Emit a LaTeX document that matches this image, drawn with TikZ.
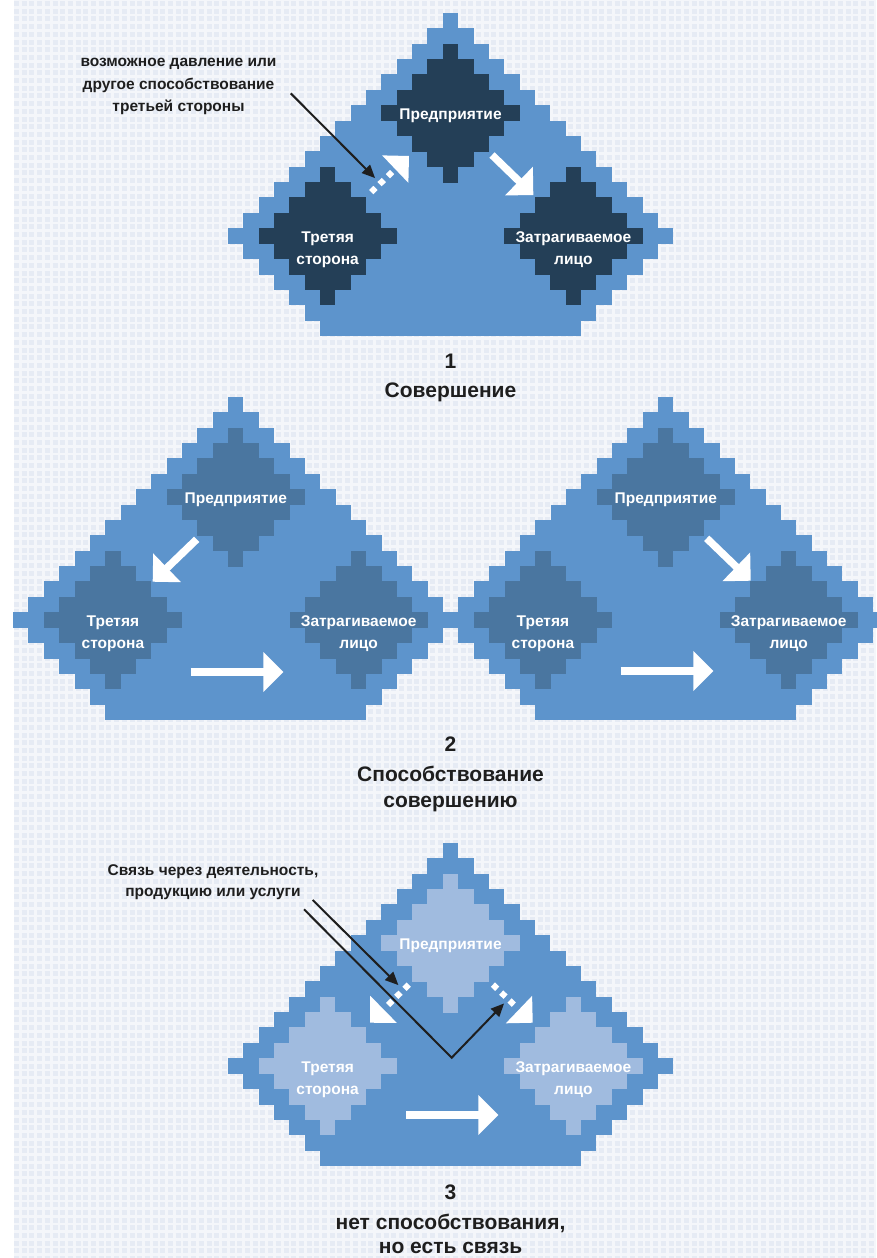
\documentclass[tikz,border=0pt]{standalone}
\usepackage{fontspec}
\setmainfont{Liberation Sans}
\usetikzlibrary{calc}
\definecolor{bgA}{HTML}{E6EBF4}
\definecolor{bgB}{HTML}{F4F6FA}
\definecolor{tri}{HTML}{5D94CC}
\definecolor{dkd}{HTML}{243F57}
\definecolor{mdd}{HTML}{4A76A0}
\definecolor{ltd}{HTML}{A0BBDF}
\definecolor{ink}{HTML}{1E1E1E}
\newcommand{\cs}{15.36}
\newcommand{\stairtri}[2]{%
  \foreach \k in {0,...,20}{%
    \pgfmathsetmacro{\hw}{(\k<15 ? \k+0.5 : 28.5-\k)*\cs}%
    \fill[tri] ({#1-\hw},{#2+\k*\cs-0.3}) rectangle ({#1+\hw},{#2+(\k+1)*\cs+0.3});
  }}
\newcommand{\stairdia}[4]{%
  \foreach \j in {-4,...,4}{%
    \pgfmathsetmacro{\hw}{(4-abs(\j)+0.5)*\cs}%
    \fill[#4] ({#1+(#3)*\cs-\hw},{#2+(\j-0.5)*\cs-0.3}) rectangle ({#1+(#3)*\cs+\hw},{#2+(\j+0.5)*\cs+0.3});
  }}
\newcommand{\twol}[2]{\begin{tabular}[t]{@{}c@{}}#1\\#2\end{tabular}}
\newcommand{\schemebody}[4]{%
  \stairdia{#1}{#2+6.5*\cs}{0}{#3}
  \stairdia{#1}{#2+14.5*\cs}{-8}{#3}
  \stairdia{#1}{#2+14.5*\cs}{8}{#3}
  \node[lbl] (#4p) at (#1,{#2+7*\cs-1.5}) {Предприятие};
  \node[lbl] (#4t) at ({#1-8*\cs},{#2+15*\cs-1.5}) {\twol{Третяя}{сторона}};
  \node[lbl] (#4a) at ({#1+8*\cs},{#2+15*\cs-1.5}) {\twol{Затрагиваемое}{лицо}};
}
% white solid arrow: start, tip
\newcommand{\wsolid}[2]{%
  \coordinate (#1b) at ($(#2)!20pt!(#1)$);
  \draw[wshaft] (#1) -- ($(#1b)!1pt!(#2)$);
  \fill[white] (#2) -- ($(#1b)!20pt!90:(#2)$) -- ($(#1b)!20pt!-90:(#2)$) -- cycle;
}
% white dashed arrow: start, tip
\newcommand{\wdashed}[2]{%
  \coordinate (#1b) at ($(#2)!19pt!(#1)$);
  \draw[wdshaft] (#1) -- ($(#2)!23pt!(#1)$);
  \fill[white] (#2) -- ($(#1b)!19pt!90:(#2)$) -- ($(#1b)!19pt!-90:(#2)$) -- cycle;
}
% black arrow head: from, tip
\newcommand{\blkhead}[2]{%
  \coordinate (#2h) at ($(#2)!13pt!(#1)$);
  \fill[ink] (#2) -- ($(#2h)!6pt!90:(#2)$) -- ($(#2h)!6pt!-90:(#2)$) -- cycle;
}
\tikzset{
  lbl/.style={text=white, anchor=base, inner sep=0pt, font=\fontsize{15.5}{22.5}\selectfont\bfseries},
  ann/.style={text=ink, anchor=base, inner sep=0pt, font=\fontsize{15.5}{22.3}\selectfont\bfseries},
  ttl/.style={text=ink, anchor=base, inner sep=0pt, font=\fontsize{21}{25}\selectfont\bfseries},
  wshaft/.style={draw=white, line width=7.5pt},
  wdshaft/.style={draw=white, line width=6pt, dash pattern=on 6pt off 5.5pt},
  blk/.style={draw=ink, line width=2pt},
}
\begin{document}
\begin{tikzpicture}[x=1pt,y=-1pt]
\useasboundingbox (0,0) rectangle (876,1258);
\fill[white] (0,0) rectangle (876,1258);
\fill[bgB] (14,0) rectangle (876,1258);
\foreach \r in {0,...,163}
  \draw[bgA, line width=5pt, dash pattern=on 5pt off 2.7pt] (14,{\r*7.7+3.5}) -- (876,{\r*7.7+3.5});

% ---------- diagram 1 ----------
\stairtri{450.5}{13.3}
\schemebody{450.5}{13.3}{dkd}{d1}
\coordinate (d1ds) at (371.2,192.1);
\coordinate (d1de) at (409,156);
\coordinate (d1ss) at (492,155);
\coordinate (d1se) at (533.3,195);
\wdashed{d1ds}{d1de}
\wsolid{d1ss}{d1se}
\node[ann] (ann1) at (178.5,66.7) {\begin{tabular}[t]{@{}c@{}}возможное давление или\\другое способствование\\третьей стороны\end{tabular}};
\coordinate (b1s) at (290.7,93.3);
\coordinate (b1e) at (375,178);
\draw[blk] (b1s) -- ($(b1e)!12pt!(b1s)$);
\blkhead{b1s}{b1e}
\node[ttl] (ttl1) at (450.5,368.3) {\begin{tabular}[t]{@{}c@{}}1\\[4pt]Совершение\end{tabular}};

% ---------- diagram 2 ----------
\stairtri{235.8}{397.3}
\stairtri{665.8}{397.3}
\schemebody{235.8}{397.3}{mdd}{d2l}
\schemebody{665.8}{397.3}{mdd}{d2r}
\coordinate (d2ls) at (196.7,539.3);
\coordinate (d2le) at (152.7,581.7);
\coordinate (d2lhs) at (190.7,672);
\coordinate (d2lhe) at (283.3,672);
\coordinate (d2rs) at (706.7,538.3);
\coordinate (d2re) at (750.7,580.7);
\coordinate (d2rhs) at (620.7,671);
\coordinate (d2rhe) at (713.3,671);
\wsolid{d2ls}{d2le}
\wsolid{d2lhs}{d2lhe}
\wsolid{d2rs}{d2re}
\wsolid{d2rhs}{d2rhe}
\node[ttl] (ttl2) at (450.5,751.7) {\begin{tabular}[t]{@{}c@{}}2\\[5pt]Способствование\\[0.6pt]совершению\end{tabular}};

% ---------- diagram 3 ----------
\stairtri{450.5}{843.3}
\schemebody{450.5}{843.3}{ltd}{d3}
\coordinate (d3ls) at (408.8,984.6);
\coordinate (d3le) at (370,1022.7);
\coordinate (d3rs) at (492.9,984.6);
\coordinate (d3re) at (532.7,1022.7);
\coordinate (d3hs) at (406,1115);
\coordinate (d3he) at (498.3,1115);
\wdashed{d3ls}{d3le}
\wdashed{d3rs}{d3re}
\wsolid{d3hs}{d3he}
\node[ann] (ann3) at (213,875) {\begin{tabular}[t]{@{}c@{}}Связь через деятельность,\\[-0.6pt]продукцию или услуги\end{tabular}};
\coordinate (b3as) at (312.7,900);
\coordinate (b3ae) at (398.3,985);
\coordinate (b3bs) at (304,909.3);
\coordinate (b3bm) at (451.7,1057.7);
\coordinate (b3be) at (504,1003.5);
\draw[blk] (b3as) -- ($(b3ae)!12pt!(b3as)$);
\blkhead{b3as}{b3ae}
\draw[blk, line join=miter] (b3bs) -- (b3bm) -- ($(b3be)!12pt!(b3bm)$);
\blkhead{b3bm}{b3be}
\node[ttl] (ttl3) at (450.5,1199.3) {\begin{tabular}[t]{@{}c@{}}3\\[5pt]нет способствования,\\[-1pt]но есть связь\end{tabular}};
\end{tikzpicture}
\end{document}
